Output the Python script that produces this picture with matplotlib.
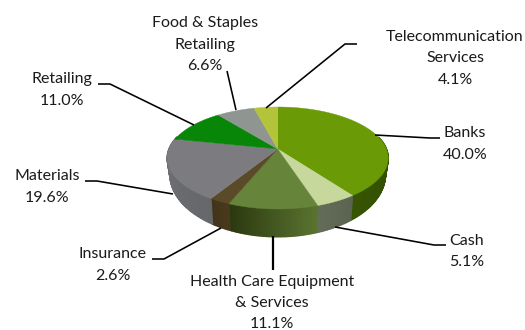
import numpy as np
import matplotlib
matplotlib.use("Agg")
import matplotlib.pyplot as plt
from matplotlib.colors import to_rgb
from matplotlib.patches import Polygon

sectors = ["Banks", "Cash", "Health Care Equipment\n& Services", "Insurance",
           "Materials", "Retailing", "Food & Staples\nRetailing",
           "Telecommunication\nServices"]
shares = [40.0, 5.1, 11.1, 2.6, 19.6, 11.0, 6.6, 4.1]
top_colors = ["#6a9b06", "#c6d89c", "#66843a", "#5a4a28",
              "#7b7b80", "#088608", "#8f9691", "#b3c43a"]
# Wall shading at the clockwise start and end of each slice
wall_start = ["#2c4600", "#5a6450", "#5a7430", "#4a3a1c",
              "#66676a", "#0a6a0a", "#777777", "#9aa030"]
wall_end = ["#365402", "#626c58", "#2c3910", "#42331a",
            "#72737a", "#0a6a0a", "#777777", "#9aa030"]

label_xy = [(465, 144), (467, 251.5), (272, 303), (113, 265), (47, 187),
            (62, 90), (205, 44.5), (455, 58.5)]
leaders = [
    [(375, 135), (430, 138), (440, 138)],
    [(335, 227), (434, 245), (446, 245)],
    [(273, 236), (273, 270)],
    [(221, 228), (164, 259), (152, 259)],
    [(173, 194), (97, 181), (85, 181)],
    [(194, 125), (110, 84), (98, 84)],
    [(236, 110), (227, 71)],
    [(266, 108), (345, 44), (357, 44)],
]

# Tilted disc: apex, far/near rim offsets and half width in pixels
CX, CY = 277.7, 149.0
FAR, NEAR, HALF_W = 42.0, 60.0, 110.5
K = (NEAR - FAR) / (NEAR + FAR)
H = FAR * (1 + K)
R = HALF_W * np.sqrt(1 - K ** 2)


def rim(theta):
    """Screen position of the top rim at clockwise angle theta from north."""
    w = 1 + K * np.cos(theta)
    return CX + R * np.sin(theta) / w, CY - H * np.cos(theta) / w


def lower_rim(theta):
    """Matching point on the bottom edge of the disc."""
    x, y = rim(theta)
    return CX + 0.975 * (x - CX), 177 + (y - 160) * 1.22


fig = plt.figure(figsize=(5.25, 3.3), dpi=100)
ax = fig.add_axes([0, 0, 1, 1])
ax.set_xlim(0, 525)
ax.set_ylim(330, 0)
ax.axis("off")

edges = np.cumsum([0.0] + shares)
edges = edges / edges[-1] * 2 * np.pi

# Outer wall first, split into strips so the shading can vary along each slice
for start, stop, c0, c1 in zip(edges[:-1], edges[1:], wall_start, wall_end):
    steps = max(int((stop - start) / np.radians(1.0)), 2)
    ts = np.linspace(start, stop, steps + 1)
    for i in range(steps):
        a, b = ts[i], ts[i + 1]
        if np.cos(a) > 0.25 and np.cos(b) > 0.25:
            continue
        f = i / max(steps - 1, 1)
        col = (1 - f) * np.array(to_rgb(c0)) + f * np.array(to_rgb(c1))
        ax.add_patch(Polygon([rim(a), rim(b), lower_rim(b), lower_rim(a)],
                             closed=True, fc=col, ec=col, lw=1.0, zorder=2))

# Top face wedges meeting at the off-centre apex
for start, stop, color in zip(edges[:-1], edges[1:], top_colors):
    ts = np.linspace(start, stop, 60)
    xs, ys = rim(ts)
    pts = [(CX, CY)] + list(zip(xs, ys))
    ax.add_patch(Polygon(pts, closed=True, fc=color, ec=color, lw=0.3, zorder=3))

for path in leaders:
    px, py = zip(*path)
    width = 1.6 if px[0] == px[-1] else 1.15
    ax.plot(px, py, color="black", lw=width, zorder=4, solid_capstyle="butt")

for name, share, (x, y) in zip(sectors, shares, label_xy):
    ax.text(x, y, f"{name}\n{share:.1f}%", ha="center", va="center",
            family="Lato", fontsize=11.5, color="#1a1a1a", linespacing=1.66,
            zorder=5)

fig.savefig("out.png", dpi=100)
